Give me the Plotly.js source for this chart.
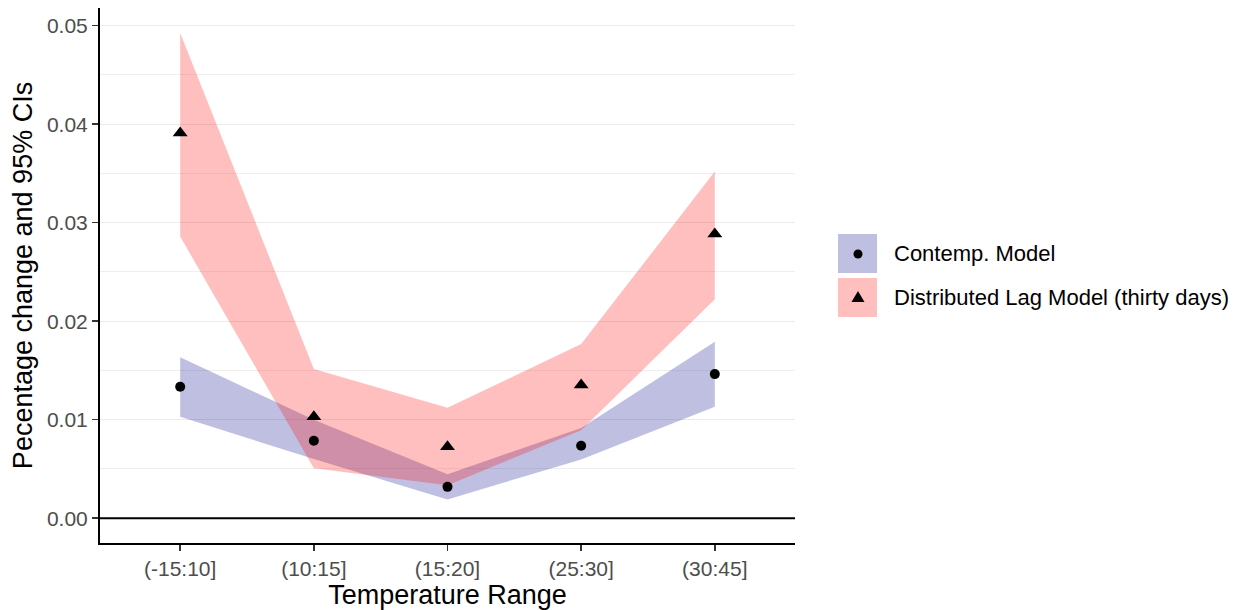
<!DOCTYPE html>
<html><head><meta charset="utf-8">
<script src="https://cdn.plot.ly/plotly-3.0.1.min.js"></script>
<style>body{margin:0;background:#fff}</style>
</head><body><div id="chart" style="width:1234px;height:610px"></div>
<script>
const categories = ["(-15:10]", "(10:15]", "(15:20]", "(25:30]", "(30:45]"];
const contempEst   = [0.01334, 0.00786, 0.00318, 0.00735, 0.01463];
const contempLower = [0.01029, 0.00600, 0.00190, 0.00597, 0.01131];
const contempUpper = [0.01633, 0.01000, 0.00447, 0.00915, 0.01792];
const dlEst   = [0.03910, 0.01030, 0.00725, 0.01352, 0.02886];
const dlLower = [0.02859, 0.00508, 0.00335, 0.00894, 0.02223];
const dlUpper = [0.04926, 0.01514, 0.01121, 0.01768, 0.03519];
const seriesNames = ["Contemp. Model", "Distributed Lag Model (thirty days)"];
const yTicks = [0, 0.01, 0.02, 0.03, 0.04, 0.05];

const blueFill = "rgba(0,0,139,0.25)";
const redFill = "rgba(255,0,0,0.25)";
const FONT = "Liberation Sans, Arial, sans-serif";

function band(lower, upper, color, name) {
  return {
    x: categories.concat(categories.slice().reverse()),
    y: upper.concat(lower.slice().reverse()),
    type: "scatter", mode: "none", fill: "toself", fillcolor: color,
    hoverinfo: "skip", showlegend: false, name: name
  };
}
const traces = [
  band(contempLower, contempUpper, blueFill, seriesNames[0]),
  band(dlLower, dlUpper, redFill, seriesNames[1]),
  {x: categories, y: contempEst, type: "scatter", mode: "markers", name: seriesNames[0],
   marker: {symbol: "circle", size: 10, color: "#000"}, showlegend: false},
  {x: categories, y: dlEst, type: "scatter", mode: "markers", name: seriesNames[1],
   marker: {symbol: "triangle-up", size: 13, color: "#000"}, showlegend: false}
];

// plot area in pixels
const L = 100, R = 795, T = 8, B = 543;
const px = p => (p - L) / (R - L);
const py = p => (B - p) / (B - T);

const shapes = [
  {type: "line", xref: "paper", yref: "y", x0: 0, x1: 1, y0: 0, y1: 0,
   line: {color: "#000", width: 2}},
  // legend keys
  {type: "rect", xref: "paper", yref: "paper", x0: px(838), x1: px(877), y0: py(273), y1: py(234),
   fillcolor: blueFill, line: {width: 0}},
  {type: "rect", xref: "paper", yref: "paper", x0: px(838), x1: px(877), y0: py(317), y1: py(278),
   fillcolor: redFill, line: {width: 0}},
  {type: "circle", xref: "paper", yref: "paper", x0: px(853.5), x1: px(862.5), y0: py(258.5), y1: py(249.5),
   fillcolor: "#000", line: {width: 0}},
  {type: "path", xref: "paper", yref: "paper",
   path: `M${px(851.5)},${py(302)} L${px(864.5)},${py(302)} L${px(858)},${py(291)} Z`,
   fillcolor: "#000", line: {width: 0}}
];
const annotations = [
  {xref: "paper", yref: "paper", x: px(892), y: py(254), xanchor: "left", yanchor: "middle",
   text: seriesNames[0], showarrow: false, font: {family: FONT, size: 22, color: "#000"}},
  {xref: "paper", yref: "paper", x: px(892), y: py(297), xanchor: "left", yanchor: "middle",
   text: seriesNames[1], showarrow: false, font: {family: FONT, size: 22, color: "#000"}}
];

const layout = {
  width: 1234, height: 610,
  margin: {l: L, r: 1234 - R, t: T, b: 610 - B},
  paper_bgcolor: "#fff", plot_bgcolor: "#fff",
  showlegend: false,
  font: {family: FONT},
  xaxis: {
    type: "category", categoryorder: "array", categoryarray: categories,
    range: [-0.6, 4.6], showgrid: false, zeroline: false,
    showline: true, linecolor: "#000", linewidth: 2,
    ticks: "outside", ticklen: 6, tickwidth: 1.5, tickcolor: "#333",
    tickfont: {family: FONT, size: 21, color: "#4d4d4d"},
    title: {text: "Temperature Range", font: {family: FONT, size: 27, color: "#000"}, standoff: 2}
  },
  yaxis: {
    range: [-0.00252, 0.0518], tickvals: yTicks, tickformat: ".2f",
    showgrid: true, gridcolor: "#ebebeb", gridwidth: 1.3,
    minor: {dtick: 0.005, tick0: 0, showgrid: true, gridcolor: "#ebebeb", gridwidth: 0.8, ticks: ""},
    zeroline: false, showline: true, linecolor: "#000", linewidth: 2,
    ticks: "outside", ticklen: 6, tickwidth: 1.5, tickcolor: "#333",
    tickfont: {family: FONT, size: 21, color: "#4d4d4d"},
    title: {text: "Pecentage change and 95% CIs", font: {family: FONT, size: 27, color: "#000"}, standoff: 6}
  },
  shapes: shapes,
  annotations: annotations
};
Plotly.newPlot("chart", traces, layout, {displayModeBar: false, staticPlot: true});
</script>
</body></html>
